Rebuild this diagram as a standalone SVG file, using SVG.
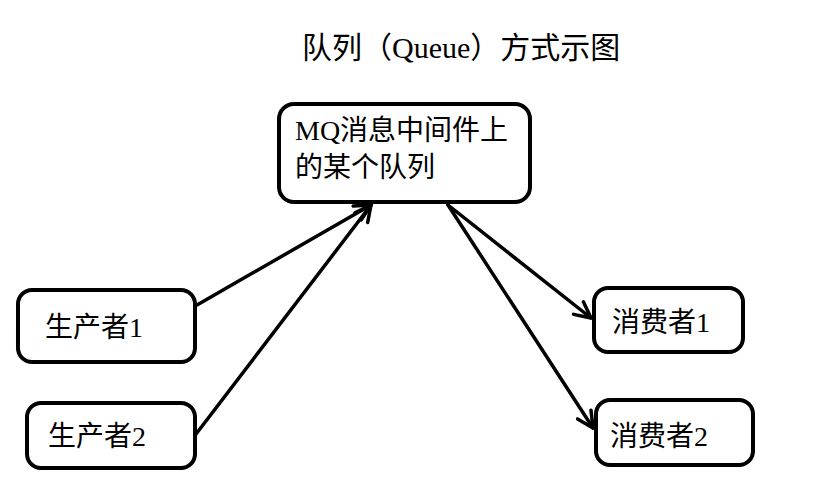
<svg xmlns="http://www.w3.org/2000/svg" width="814" height="485" viewBox="0 0 814 485">
<style>
.box{fill:#fff;stroke:#000;stroke-width:4}
.t{font-family:"Liberation Serif","Noto Sans CJK SC",serif;font-size:28px;fill:#000}
.c{stroke:#000;stroke-width:3.5;fill:none;stroke-linecap:round}
</style>
<defs>
<marker id="ah" viewBox="0 0 20 20" refX="18" refY="10" markerWidth="20" markerHeight="20" markerUnits="userSpaceOnUse" orient="auto">
<path d="M2,2 L18,10 L2,18" fill="none" stroke="#000" stroke-width="3.5" stroke-linecap="round" stroke-linejoin="round"/>
</marker>
</defs>
<rect width="814" height="485" fill="#fff"/>
<text class="t" x="302" y="58" style="font-size:30px">队列（Queue）方式示图</text>
<g id="connectors">
<line class="c" x1="197" y1="305" x2="371" y2="205" marker-end="url(#ah)"/>
<line class="c" x1="193" y1="438" x2="371" y2="205" marker-end="url(#ah)"/>
<line class="c" x1="448" y1="205" x2="591" y2="318" marker-end="url(#ah)"/>
<line class="c" x1="448" y1="205" x2="593" y2="428" marker-end="url(#ah)"/>
</g>
<g id="mq">
<rect class="box" x="279" y="104" width="251" height="98" rx="15"/>
<text class="t" x="295" y="140">MQ消息中间件上</text>
<text class="t" x="295" y="177">的某个队列</text>
</g>
<g id="producer1">
<rect class="box" x="18" y="290" width="177" height="72" rx="14"/>
<text class="t" x="45" y="337">生产者1</text>
</g>
<g id="producer2">
<rect class="box" x="27" y="403" width="168" height="65" rx="14"/>
<text class="t" x="48" y="446">生产者2</text>
</g>
<g id="consumer1">
<rect class="box" x="594" y="288" width="149" height="64" rx="14"/>
<text class="t" x="612" y="332">消费者1</text>
</g>
<g id="consumer2">
<rect class="box" x="596" y="400" width="157" height="65" rx="14"/>
<text class="t" x="610" y="446">消费者2</text>
</g>
</svg>
